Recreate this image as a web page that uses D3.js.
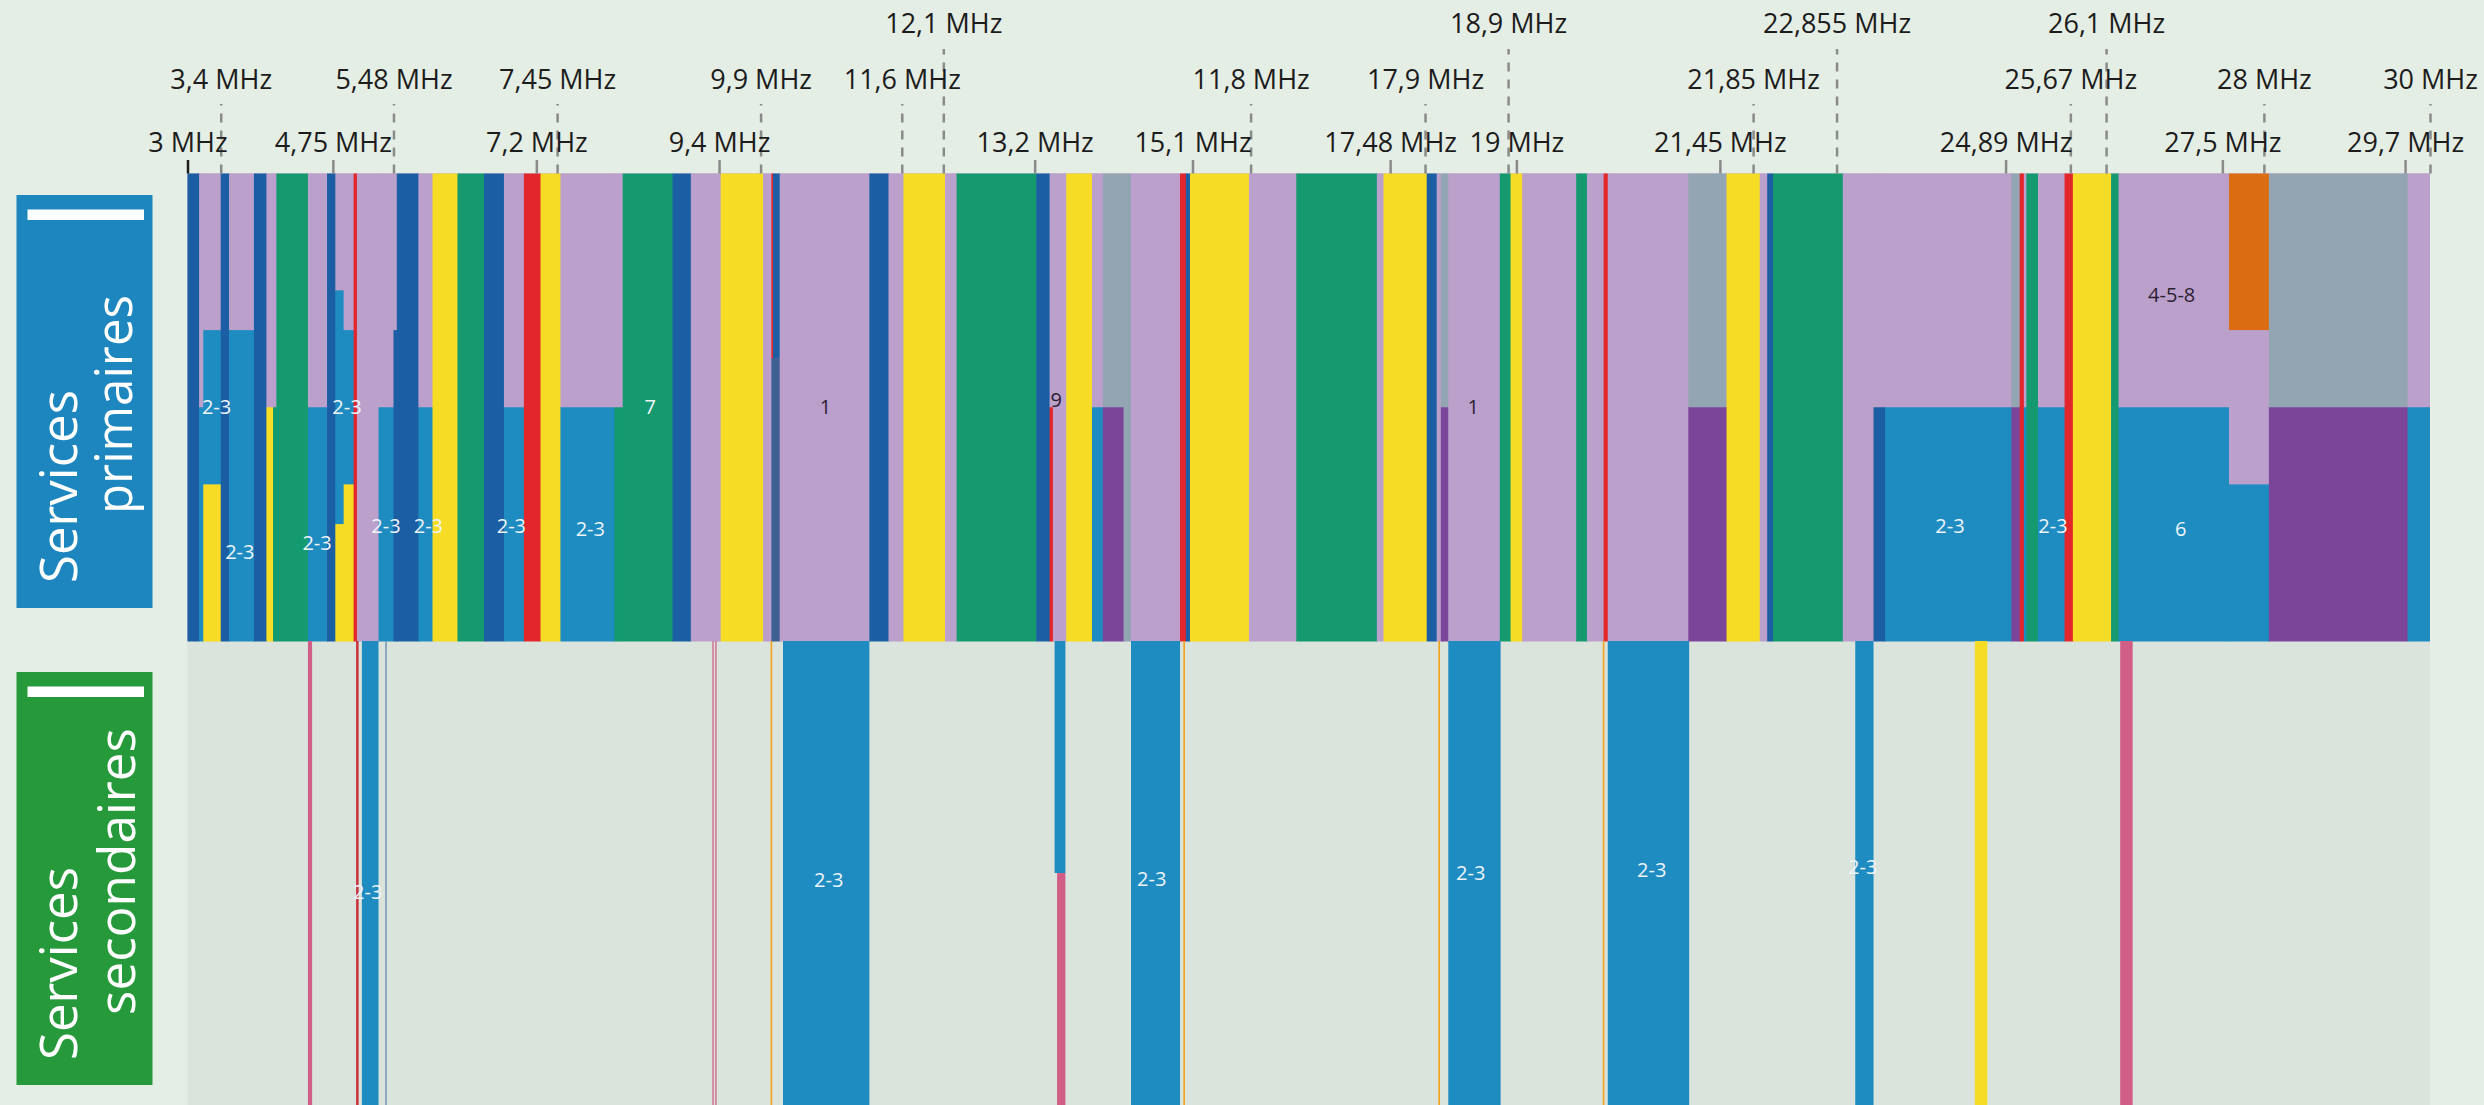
<!DOCTYPE html>
<meta charset="utf-8">
<style>

body {
  margin: 0;
  background: #e5eee5;
}

svg {
  display: block;
}

.axis text {
  font: 27px "Open Sans", sans-serif;
  fill: #1c1c1c;
}

.band-label {
  font: 20px "Open Sans", sans-serif;
}

.side text {
  font: 52px "Open Sans", sans-serif;
  fill: #fff;
}

</style>
<svg width="2484" height="1105"></svg>
<script src="https://d3js.org/d3.v7.min.js"></script>
<script>

var freqMin = 3, freqMax = 30;

// services primaires : [debut MHz, fin MHz, [[service, part de la hauteur], ...] de haut en bas]
var primary = [
  [3.00, 3.14, [["bleuFonce", 1]]],
  [3.14, 3.19, [["lilas", 0.5], ["bleu", 0.5]]],
  [3.19, 3.40, [["lilas", 0.335], ["bleu", 0.33], ["jaune", 0.335]]],
  [3.40, 3.50, [["bleuFonce", 1]]],
  [3.50, 3.80, [["lilas", 0.335], ["bleu", 0.665]]],
  [3.80, 3.95, [["bleuFonce", 1]]],
  [3.95, 4.03, [["lilas", 0.5], ["jaune", 0.5]]],
  [4.03, 4.07, [["lilas", 0.5], ["vert", 0.5]]],
  [4.07, 4.45, [["vert", 1]]],
  [4.45, 4.68, [["lilas", 0.5], ["bleu", 0.5]]],
  [4.68, 4.78, [["bleuFonce", 1]]],
  [4.78, 4.88, [["lilas", 0.25], ["bleu", 0.5], ["jaune", 0.25]]],
  [4.88, 5.00, [["lilas", 0.335], ["bleu", 0.33], ["jaune", 0.335]]],
  [5.00, 5.04, [["rouge", 1]]],
  [5.04, 5.30, [["lilas", 1]]],
  [5.30, 5.48, [["lilas", 0.5], ["bleu", 0.5]]],
  [5.48, 5.52, [["lilas", 0.335], ["bleuFonce", 0.665]]],
  [5.52, 5.78, [["bleuFonce", 1]]],
  [5.78, 5.95, [["lilas", 0.5], ["bleu", 0.5]]],
  [5.95, 6.25, [["jaune", 1]]],
  [6.25, 6.57, [["vert", 1]]],
  [6.57, 6.81, [["bleuFonce", 1]]],
  [6.81, 7.05, [["lilas", 0.5], ["bleu", 0.5]]],
  [7.05, 7.25, [["rouge", 1]]],
  [7.25, 7.49, [["jaune", 1]]],
  [7.49, 8.14, [["lilas", 0.5], ["bleu", 0.5]]],
  [8.14, 8.24, [["lilas", 0.5], ["vert", 0.5]]],
  [8.24, 8.84, [["vert", 1]]],
  [8.84, 9.06, [["bleuFonce", 1]]],
  [9.06, 9.42, [["lilas", 1]]],
  [9.42, 9.93, [["jaune", 1]]],
  [9.93, 10.03, [["lilas", 1]]],
  [10.03, 10.05, [["rouge", 0.395], ["bleuSombre", 0.605]]],
  [10.05, 10.13, [["bleuFonce", 0.395], ["bleuSombre", 0.605]]],
  [10.13, 11.21, [["lilas", 1]]],
  [11.21, 11.44, [["bleuFonce", 1]]],
  [11.44, 11.62, [["lilas", 1]]],
  [11.62, 12.12, [["jaune", 1]]],
  [12.12, 12.26, [["lilas", 1]]],
  [12.26, 13.22, [["vert", 1]]],
  [13.22, 13.38, [["bleuFonce", 1]]],
  [13.38, 13.42, [["lilas", 0.5], ["rouge", 0.5]]],
  [13.42, 13.58, [["lilas", 1]]],
  [13.58, 13.89, [["jaune", 1]]],
  [13.89, 14.02, [["lilas", 0.5], ["bleu", 0.5]]],
  [14.02, 14.27, [["gris", 0.5], ["violet", 0.5]]],
  [14.27, 14.36, [["gris", 1]]],
  [14.36, 14.95, [["lilas", 1]]],
  [14.95, 15.02, [["rouge", 1]]],
  [15.02, 15.07, [["bleuFonce", 1]]],
  [15.07, 15.78, [["jaune", 1]]],
  [15.78, 16.35, [["lilas", 1]]],
  [16.35, 17.32, [["vert", 1]]],
  [17.32, 17.40, [["lilas", 1]]],
  [17.40, 17.92, [["jaune", 1]]],
  [17.92, 18.04, [["bleuFonce", 1]]],
  [18.04, 18.09, [["lilas", 1]]],
  [18.09, 18.18, [["gris", 0.5], ["violet", 0.5]]],
  [18.18, 18.80, [["lilas", 1]]],
  [18.80, 18.93, [["vert", 1]]],
  [18.93, 19.07, [["jaune", 1]]],
  [19.07, 19.72, [["lilas", 1]]],
  [19.72, 19.85, [["vert", 1]]],
  [19.85, 20.05, [["lilas", 1]]],
  [20.05, 20.10, [["rouge", 1]]],
  [20.10, 21.07, [["lilas", 1]]],
  [21.07, 21.53, [["gris", 0.5], ["violet", 0.5]]],
  [21.53, 21.93, [["jaune", 1]]],
  [21.93, 22.02, [["lilas", 1]]],
  [22.02, 22.09, [["bleuFonce", 1]]],
  [22.09, 22.93, [["vert", 1]]],
  [22.93, 23.30, [["lilas", 1]]],
  [23.30, 23.44, [["lilas", 0.5], ["bleuFonce", 0.5]]],
  [23.44, 24.96, [["lilas", 0.5], ["bleu", 0.5]]],
  [24.96, 25.06, [["gris", 0.5], ["violet", 0.5]]],
  [25.06, 25.11, [["rouge", 1]]],
  [25.11, 25.14, [["lilas", 0.5], ["bleu", 0.5]]],
  [25.14, 25.28, [["vert", 1]]],
  [25.28, 25.60, [["lilas", 0.5], ["bleu", 0.5]]],
  [25.60, 25.70, [["rouge", 1]]],
  [25.70, 26.16, [["jaune", 1]]],
  [26.16, 26.25, [["vert", 1]]],
  [26.25, 27.58, [["lilas", 0.5], ["bleu", 0.5]]],
  [27.58, 28.06, [["orange", 0.335], ["lilas", 0.33], ["bleu", 0.335]]],
  [28.06, 29.73, [["gris", 0.5], ["violet", 0.5]]],
  [29.73, 30.00, [["lilas", 0.5], ["bleu", 0.5]]]
];

// services secondaires : [debut MHz, fin MHz, service, de, a] (part de la hauteur)
var secondary = [
  [4.45, 4.50, "rose", 0, 1],
  [5.03, 5.06, "rougeFonce", 0, 1],
  [5.10, 5.30, "bleu", 0, 1],
  [5.38, 5.40, "bleuGris", 0, 1],
  [9.32, 9.335, "rose", 0, 1],
  [9.355, 9.37, "rose", 0, 1],
  [10.02, 10.04, "orangeClair", 0, 1],
  [10.17, 11.21, "bleu", 0, 1],
  [13.44, 13.57, "bleu", 0, 0.5],
  [13.47, 13.57, "rose", 0.5, 1],
  [14.36, 14.95, "bleu", 0, 1],
  [14.99, 15.01, "orangeClair", 0, 1],
  [18.06, 18.08, "orangeClair", 0, 1],
  [18.18, 18.81, "bleu", 0, 1],
  [20.04, 20.06, "orangeClair", 0, 1],
  [20.10, 21.08, "bleu", 0, 1],
  [23.08, 23.30, "bleu", 0, 1],
  [24.52, 24.67, "jaune", 0, 1],
  [26.27, 26.42, "rose", 0, 1]
];

// etiquettes dans les bandes : [MHz, niveau, texte]
var primaryLabels = [
  [3.35, 0.50, "2-3"], [3.63, 0.81, "2-3"], [4.56, 0.79, "2-3"], [4.92, 0.50, "2-3"],
  [5.39, 0.755, "2-3"], [5.90, 0.755, "2-3"], [6.90, 0.755, "2-3"], [7.85, 0.76, "2-3"],
  [8.57, 0.50, "7"], [10.68, 0.50, "1"], [13.46, 0.485, "9"], [18.48, 0.50, "1"],
  [24.22, 0.755, "2-3"], [25.46, 0.755, "2-3"], [26.89, 0.26, "4-5-8"], [27.0, 0.76, "6"]
];

var secondaryLabels = [
  [5.17, 0.54, "2-3"], [10.72, 0.515, "2-3"], [14.61, 0.513, "2-3"],
  [18.45, 0.50, "2-3"], [20.63, 0.494, "2-3"], [23.17, 0.487, "2-3"]
];

// reperes de frequence, trois rangees
var ticksRow1 = [[12.1, "12,1 MHz"], [18.9, "18,9 MHz"], [22.855, "22,855 MHz"], [26.1, "26,1 MHz"]];
var ticksRow2 = [[3.4, "3,4 MHz"], [5.48, "5,48 MHz"], [7.45, "7,45 MHz"], [9.9, "9,9 MHz"],
  [11.6, "11,6 MHz"], [15.8, "11,8 MHz"], [17.9, "17,9 MHz"], [21.85, "21,85 MHz"],
  [25.67, "25,67 MHz"], [28, "28 MHz"], [30, "30 MHz"]];
var ticksRow3 = [[3, "3 MHz"], [4.75, "4,75 MHz"], [7.2, "7,2 MHz"], [9.4, "9,4 MHz"],
  [13.2, "13,2 MHz"], [15.1, "15,1 MHz"], [17.48, "17,48 MHz"], [19, "19 MHz"],
  [21.45, "21,45 MHz"], [24.89, "24,89 MHz"], [27.5, "27,5 MHz"], [29.7, "29,7 MHz"]];

var sideTitles = [["Services", "primaires"], ["Services", "secondaires"]];

var services = ["bleuFonce", "lilas", "bleu", "vert", "jaune", "rouge", "gris", "violet",
  "orange", "rose", "rougeFonce", "orangeClair", "bleuGris", "bleuSombre"];

var svg = d3.select("svg");

var x = d3.scaleLinear().domain([freqMin, freqMax]).range([187.5, 2430]);
var yPrim = d3.scaleLinear().domain([0, 1]).range([173.5, 641]);
var ySec = d3.scaleLinear().domain([0, 1]).range([641, 1105]);

var colour = d3.scaleOrdinal()
  .domain(services)
  .range(["#1b5ea4", "#bca0cc", "#1e8cc1", "#159a70", "#f7dc26", "#e3262b", "#93a4b3",
    "#7b4699", "#da6d12", "#d15e86", "#c8303c", "#f2a41e", "#7d9cbc", "#3d5f91"]);

// fond des services secondaires
svg.append("rect")
  .attr("x", x(freqMin))
  .attr("y", ySec(0))
  .attr("width", x(freqMax) - x(freqMin))
  .attr("height", ySec(1) - ySec(0))
  .attr("fill", "#dae3dc");

// couches des services primaires
var layers = [];
primary.forEach(function(c) {
  var top = 0;
  c[2].forEach(function(s) {
    layers.push({f0: c[0], f1: c[1], service: s[0], y0: top, y1: top + s[1]});
    top += s[1];
  });
});

svg.append("rect")
  .attr("x", x(freqMin))
  .attr("y", yPrim(0))
  .attr("width", x(freqMax) - x(freqMin))
  .attr("height", yPrim(1) - yPrim(0))
  .attr("fill", colour("lilas"));

svg.append("g")
  .attr("class", "primary")
  .selectAll("rect")
  .data(layers)
  .enter().append("rect")
    .attr("x", function(d) { return x(d.f0); })
    .attr("y", function(d) { return yPrim(d.y0); })
    .attr("width", function(d) { return Math.min(x(d.f1) + 0.6, x(freqMax)) - x(d.f0); })
    .attr("height", function(d) { return yPrim(d.y1) - yPrim(d.y0) + 0.5; })
    .attr("fill", function(d) { return colour(d.service); });

svg.append("g")
  .attr("class", "secondary")
  .selectAll("rect")
  .data(secondary)
  .enter().append("rect")
    .attr("x", function(d) { return x(d[0]); })
    .attr("y", function(d) { return ySec(d[3]); })
    .attr("width", function(d) { return x(d[1]) - x(d[0]); })
    .attr("height", function(d) { return ySec(d[4]) - ySec(d[3]); })
    .attr("fill", function(d) { return colour(d[2]); });

function serviceAt(f, level) {
  var found = "lilas";
  layers.forEach(function(d) {
    if (f >= d.f0 && f < d.f1 && level >= d.y0 && level < d.y1) found = d.service;
  });
  return found;
}

svg.append("g")
  .selectAll("text")
  .data(primaryLabels)
  .enter().append("text")
    .attr("class", "band-label")
    .attr("x", function(d) { return x(d[0]); })
    .attr("y", function(d) { return yPrim(d[1]); })
    .attr("dy", "0.35em")
    .attr("text-anchor", "middle")
    .attr("fill", function(d) { return serviceAt(d[0], d[1]) == "lilas" ? "#2b2030" : "#eef4fa"; })
    .text(function(d) { return d[2]; });

svg.append("g")
  .selectAll("text")
  .data(secondaryLabels)
  .enter().append("text")
    .attr("class", "band-label")
    .attr("x", function(d) { return x(d[0]); })
    .attr("y", function(d) { return ySec(d[1]); })
    .attr("dy", "0.35em")
    .attr("text-anchor", "middle")
    .attr("fill", "#eef4fa")
    .text(function(d) { return d[2]; });

// axes en haut : une rangee par hauteur de repere
function tickAxis(row, size, padding, dashed) {
  var labels = new Map(row);
  var axis = d3.axisTop(x)
    .tickValues(row.map(function(d) { return d[0]; }))
    .tickFormat(function(v) { return labels.get(v); })
    .tickSize(size)
    .tickPadding(padding);
  var g = svg.append("g")
    .attr("class", "axis")
    .attr("transform", "translate(0," + yPrim(0) + ")")
    .call(axis);
  g.attr("font-size", null).attr("font-family", null);
  g.select(".domain").remove();
  g.selectAll("line")
    .attr("stroke", "#8a8a8a")
    .attr("stroke-width", 2.5)
    .attr("stroke-dasharray", dashed ? "9,8" : null);
  return g;
}

tickAxis(ticksRow1, 124.5, 16, true);
tickAxis(ticksRow2, 69.5, 15, true);
var row3 = tickAxis(ticksRow3, 13.5, 8.5, false);
row3.selectAll(".tick line")
  .filter(function(d) { return d == freqMin; })
  .attr("stroke", "#1c1c1c");

// titres verticaux a gauche
var boxes = [
  {y: 195, h: 413, fill: "#1d86be", line2: 514, base2: 132},
  {y: 672, h: 413, fill: "#269a3b", line2: 1015, base2: 135}
];

var side = svg.append("g")
  .attr("class", "side")
  .selectAll("g")
  .data(sideTitles)
  .enter().append("g");

side.append("rect")
  .attr("x", 16.5)
  .attr("y", function(d, i) { return boxes[i].y; })
  .attr("width", 136)
  .attr("height", function(d, i) { return boxes[i].h; })
  .attr("fill", function(d, i) { return boxes[i].fill; });

side.append("rect")
  .attr("x", 27.5)
  .attr("y", function(d, i) { return boxes[i].y + 14.5; })
  .attr("width", 116.5)
  .attr("height", 10.5)
  .attr("fill", "#fff");

side.append("text")
  .attr("transform", function(d, i) { return "translate(77," + (boxes[i].y + boxes[i].h - 25) + ") rotate(-90)"; })
  .attr("textLength", 193)
  .attr("lengthAdjust", "spacingAndGlyphs")
  .text(function(d) { return d[0]; });

side.append("text")
  .attr("transform", function(d, i) { return "translate(" + boxes[i].base2 + "," + boxes[i].line2 + ") rotate(-90)"; })
  .attr("textLength", function(d, i) { return i == 0 ? 219 : 287; })
  .attr("lengthAdjust", "spacingAndGlyphs")
  .text(function(d) { return d[1]; });

</script>
